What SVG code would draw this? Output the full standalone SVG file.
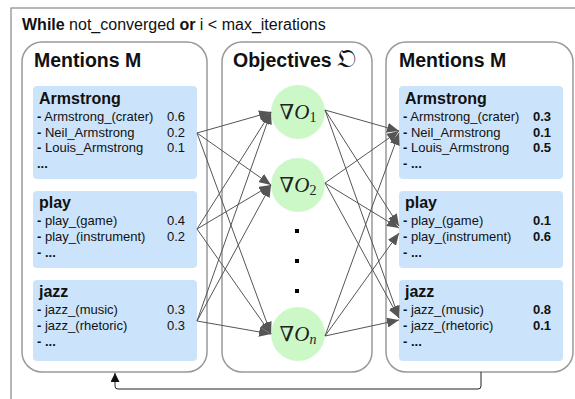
<svg xmlns="http://www.w3.org/2000/svg" width="575" height="399" viewBox="0 0 575 399">
<defs>
<marker id="ah" viewBox="0 0 12 10" refX="12" refY="5" markerWidth="12" markerHeight="10" markerUnits="userSpaceOnUse" orient="auto">
<path d="M0,0 L12,5 L0,10 Z" fill="#555"/>
</marker>
<marker id="ahb" viewBox="0 0 10 10" refX="10" refY="5" markerWidth="9" markerHeight="9" markerUnits="userSpaceOnUse" orient="auto">
<path d="M0,0 L10,5 L0,10 Z" fill="#111"/>
</marker>
</defs>
<style>
.frame{fill:#fff;stroke:#888;stroke-width:1.2}
.panel{fill:#fff;stroke:#999;stroke-width:1.5}
.box{fill:#cce4fb}
.circ{fill:#ccf8c8}
.t{font-family:"Liberation Sans",Arial,sans-serif;fill:#111}
.title{font-size:19.5px;font-weight:bold}
.head{font-size:16px;font-weight:bold}
.item{font-size:13px}
.b{font-weight:bold}
.m{font-family:"Liberation Serif","DejaVu Serif",serif;font-size:21px;fill:#222}
.c{fill:none;stroke:#555;stroke-width:1}
.dot{fill:#000}
</style>
<rect class="frame" x="11" y="8" width="620" height="430"/>
<text class="t" x="22" y="30" font-size="16"><tspan class="b">While</tspan> not_converged <tspan class="b">or</tspan> i &lt; max_iterations</text>

<g id="left-panel">
<rect class="panel" x="22" y="42" width="185" height="330" rx="20"/>
<text class="t title" x="34" y="67">Mentions M</text>
</g>
<g id="left-armstrong">
<rect class="box" x="33" y="86" width="164" height="93" rx="4"/>
<text class="t head" x="39" y="104">Armstrong</text>
<text class="t item" x="37" y="121"><tspan class="b">-</tspan> Armstrong_(crater)</text><text class="t item" x="167" y="121">0.6</text>
<text class="t item" x="37" y="137"><tspan class="b">-</tspan> Neil_Armstrong</text><text class="t item" x="167" y="137">0.2</text>
<text class="t item" x="37" y="152"><tspan class="b">-</tspan> Louis_Armstrong</text><text class="t item" x="167" y="152">0.1</text>
<text class="t item b" x="37" y="168">...</text>
</g>
<g id="left-play">
<rect class="box" x="33" y="191" width="164" height="77" rx="4"/>
<text class="t head" x="39" y="208">play</text>
<text class="t item" x="37" y="225"><tspan class="b">-</tspan> play_(game)</text><text class="t item" x="167" y="225">0.4</text>
<text class="t item" x="37" y="241"><tspan class="b">-</tspan> play_(instrument)</text><text class="t item" x="167" y="241">0.2</text>
<text class="t item b" x="37" y="257">- ...</text>
</g>
<g id="left-jazz">
<rect class="box" x="33" y="280" width="164" height="81" rx="4"/>
<text class="t head" x="39" y="297">jazz</text>
<text class="t item" x="37" y="314"><tspan class="b">-</tspan> jazz_(music)</text><text class="t item" x="167" y="314">0.3</text>
<text class="t item" x="37" y="330"><tspan class="b">-</tspan> jazz_(rhetoric)</text><text class="t item" x="167" y="330">0.3</text>
<text class="t item b" x="37" y="346">- ...</text>
</g>

<g id="mid-panel">
<rect class="panel" x="222" y="42" width="150" height="330" rx="20"/>
<text class="t title" x="233" y="67">Objectives <tspan font-family="'DejaVu Serif',serif" font-weight="normal" font-size="26">𝔒</tspan></text>
</g>
<g id="obj-1">
<circle class="circ" cx="298" cy="112" r="27"/>
<text class="m" x="298" y="119" text-anchor="middle">∇<tspan font-style="italic">O</tspan><tspan font-size="14" dy="3">1</tspan></text>
</g>
<g id="obj-2">
<circle class="circ" cx="298" cy="185" r="27"/>
<text class="m" x="298" y="192" text-anchor="middle">∇<tspan font-style="italic">O</tspan><tspan font-size="14" dy="3">2</tspan></text>
</g>
<g id="dots">
<rect class="dot" x="295" y="229" width="4" height="4"/>
<rect class="dot" x="295" y="259" width="4" height="4"/>
<rect class="dot" x="295" y="289" width="4" height="4"/>
</g>
<g id="obj-n">
<circle class="circ" cx="298" cy="334" r="27"/>
<text class="m" x="298" y="341" text-anchor="middle">∇<tspan font-style="italic">O</tspan><tspan font-size="14" font-style="italic" dy="3">n</tspan></text>
</g>

<g id="right-panel">
<rect class="panel" x="386" y="42" width="187" height="330" rx="20"/>
<text class="t title" x="399" y="67">Mentions M</text>
</g>
<g id="right-armstrong">
<rect class="box" x="399" y="86" width="164" height="93" rx="4"/>
<text class="t head" x="405" y="104">Armstrong</text>
<text class="t item" x="403" y="121"><tspan class="b">-</tspan> Armstrong_(crater)</text><text class="t item b" x="533" y="121">0.3</text>
<text class="t item" x="403" y="137"><tspan class="b">-</tspan> Neil_Armstrong</text><text class="t item b" x="533" y="137">0.1</text>
<text class="t item" x="403" y="152"><tspan class="b">-</tspan> Louis_Armstrong</text><text class="t item b" x="533" y="152">0.5</text>
<text class="t item b" x="403" y="168">- ...</text>
</g>
<g id="right-play">
<rect class="box" x="399" y="191" width="164" height="77" rx="4"/>
<text class="t head" x="405" y="208">play</text>
<text class="t item" x="403" y="225"><tspan class="b">-</tspan> play_(game)</text><text class="t item b" x="533" y="225">0.1</text>
<text class="t item" x="403" y="241"><tspan class="b">-</tspan> play_(instrument)</text><text class="t item b" x="533" y="241">0.6</text>
<text class="t item b" x="403" y="257">- ...</text>
</g>
<g id="right-jazz">
<rect class="box" x="399" y="280" width="164" height="81" rx="4"/>
<text class="t head" x="405" y="297">jazz</text>
<text class="t item" x="403" y="314"><tspan class="b">-</tspan> jazz_(music)</text><text class="t item b" x="533" y="314">0.8</text>
<text class="t item" x="403" y="330"><tspan class="b">-</tspan> jazz_(rhetoric)</text><text class="t item b" x="533" y="330">0.1</text>
<text class="t item b" x="403" y="346">- ...</text>
</g>

<g id="connectors">
<path class="c" marker-end="url(#ah)" d="M197,133 L271,112"/>
<path class="c" marker-end="url(#ah)" d="M197,133 L271,185"/>
<path class="c" marker-end="url(#ah)" d="M197,133 L271,334"/>
<path class="c" marker-end="url(#ah)" d="M197,229 L271,112"/>
<path class="c" marker-end="url(#ah)" d="M197,229 L271,185"/>
<path class="c" marker-end="url(#ah)" d="M197,229 L271,334"/>
<path class="c" marker-end="url(#ah)" d="M197,321 L271,112"/>
<path class="c" marker-end="url(#ah)" d="M197,321 L271,185"/>
<path class="c" marker-end="url(#ah)" d="M197,321 L271,334"/>
<path class="c" marker-end="url(#ah)" d="M325,110 L399,131"/>
<path class="c" marker-end="url(#ah)" d="M325,110 L399,226"/>
<path class="c" marker-end="url(#ah)" d="M325,110 L399,318"/>
<path class="c" marker-end="url(#ah)" d="M325,183 L399,131"/>
<path class="c" marker-end="url(#ah)" d="M325,183 L399,228"/>
<path class="c" marker-end="url(#ah)" d="M325,183 L399,318"/>
<path class="c" marker-end="url(#ah)" d="M325,336 L399,133"/>
<path class="c" marker-end="url(#ah)" d="M325,336 L399,233"/>
<path class="c" marker-end="url(#ah)" d="M325,336 L399,320"/>
<path fill="none" stroke="#222" stroke-width="1" marker-end="url(#ahb)" d="M481,372 V386 Q481,389 478,389 H118 Q115,389 115,386 V373"/>
</g>
</svg>
